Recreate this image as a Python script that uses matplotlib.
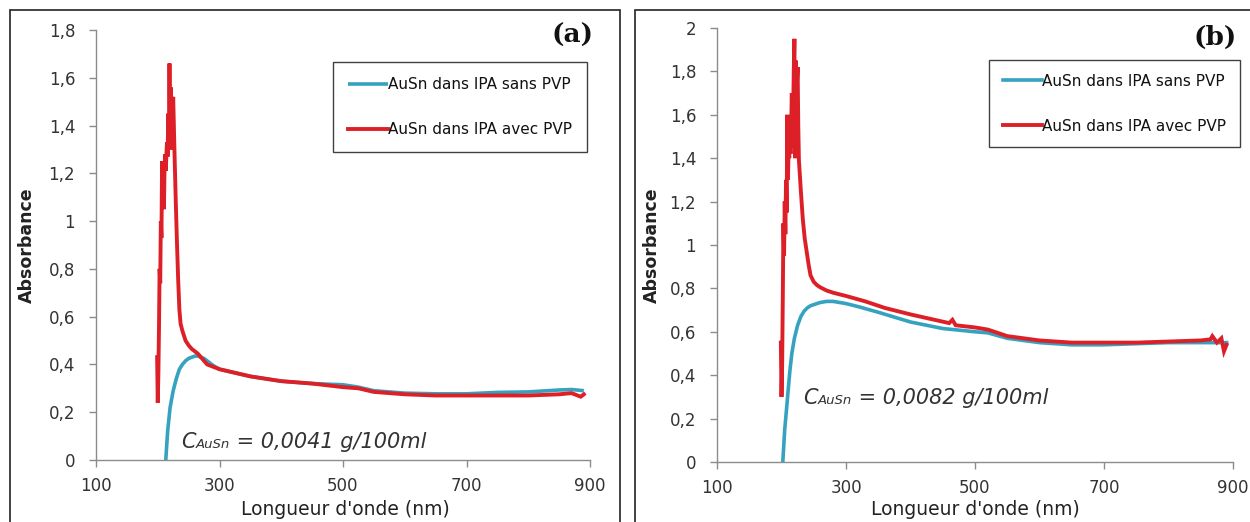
import matplotlib
matplotlib.use("Agg")
import matplotlib.pyplot as plt
from matplotlib.patches import Rectangle
from matplotlib.ticker import FuncFormatter
from matplotlib.offsetbox import TextArea, HPacker, AnnotationBbox

# ---------------- data ----------------
# Panel (a)
a_red_x = [199, 200, 201, 202, 203, 204, 205, 206, 207, 208, 209, 210, 211, 212, 213, 214,
           215, 216, 217, 218, 219, 220, 221, 222, 223, 224, 225, 227, 229, 231, 233, 235,
           237, 240, 245, 250, 255, 260, 265, 270, 275, 280, 290, 300, 325, 350, 375, 400,
           450, 500, 525, 550, 600, 650, 700, 750, 800, 850, 870, 885, 890]
a_red_y = [0.43, 0.24, 0.36, 0.55, 0.80, 0.74, 1.00, 0.93, 1.25, 1.08, 1.25, 1.05, 1.22, 1.28,
           1.21, 1.28, 1.33, 1.27, 1.45, 1.32, 1.66, 1.38, 1.56, 1.30, 1.52, 1.45, 1.52, 1.30,
           1.10, 0.92, 0.76, 0.63, 0.57, 0.54, 0.50, 0.48, 0.465, 0.455, 0.445, 0.43, 0.415,
           0.40, 0.39, 0.38, 0.365, 0.35, 0.34, 0.33, 0.32, 0.305, 0.30, 0.285, 0.275, 0.27,
           0.27, 0.27, 0.27, 0.275, 0.28, 0.265, 0.275]
a_blue_x = [213, 216, 220, 225, 230, 235, 240, 245, 250, 255, 260, 265, 270, 275, 280, 290,
            300, 325, 350, 400, 450, 500, 525, 550, 600, 650, 700, 750, 800, 850, 870, 890]
a_blue_y = [0.0, 0.12, 0.22, 0.29, 0.34, 0.38, 0.40, 0.415, 0.425, 0.43, 0.435, 0.435, 0.43,
            0.425, 0.415, 0.395, 0.38, 0.365, 0.35, 0.33, 0.32, 0.315, 0.305, 0.29, 0.28,
            0.277, 0.277, 0.283, 0.285, 0.293, 0.295, 0.29]

# Panel (b)
b_red_x = [199, 200, 201, 202, 203, 204, 205, 206, 207, 208, 209, 210, 211, 212, 213, 214,
           215, 216, 217, 218, 219, 220, 221, 222, 223, 224, 225, 226, 227, 230, 233, 236,
           239, 242, 245, 250, 255, 260, 270, 280, 300, 330, 360, 400, 430, 460, 465, 470,
           500, 520, 550, 600, 650, 700, 750, 800, 850, 865, 868, 875, 882, 886, 890]
b_red_y = [0.55, 0.30, 0.45, 0.75, 1.10, 0.95, 1.20, 1.05, 1.30, 1.15, 1.60, 1.30, 1.45,
           1.40, 1.50, 1.42, 1.55, 1.70, 1.45, 1.60, 1.80, 1.95, 1.40, 1.85, 1.50, 1.75,
           1.82, 1.55, 1.39, 1.25, 1.12, 1.03, 0.97, 0.91, 0.86, 0.83, 0.815, 0.805, 0.79,
           0.78, 0.765, 0.74, 0.71, 0.68, 0.66, 0.64, 0.655, 0.63, 0.62, 0.61, 0.58, 0.56,
           0.55, 0.55, 0.55, 0.555, 0.56, 0.565, 0.58, 0.55, 0.57, 0.51, 0.54]
b_blue_x = [202, 205, 208, 210, 213, 216, 220, 225, 230, 235, 240, 245, 250, 260, 270, 280,
            290, 300, 320, 350, 400, 450, 500, 520, 550, 600, 650, 700, 750, 800, 850, 890]
b_blue_y = [0.0, 0.15, 0.25, 0.32, 0.42, 0.50, 0.57, 0.63, 0.67, 0.695, 0.71, 0.72, 0.725,
            0.735, 0.74, 0.74, 0.735, 0.73, 0.715, 0.69, 0.645, 0.615, 0.60, 0.595, 0.57,
            0.55, 0.54, 0.54, 0.545, 0.55, 0.55, 0.55]

x_ticks = [100, 300, 500, 700, 900]
a_y_ticks = [0, 0.2, 0.4, 0.6, 0.8, 1.0, 1.2, 1.4, 1.6, 1.8]
b_y_ticks = [0, 0.2, 0.4, 0.6, 0.8, 1.0, 1.2, 1.4, 1.6, 1.8, 2.0]

label_blue = "AuSn dans IPA sans PVP"
label_red = "AuSn dans IPA avec PVP"
x_label = "Longueur d'onde (nm)"
y_label = "Absorbance"
conc_a = " = 0,0041 g/100ml"
conc_b = " = 0,0082 g/100ml"

BLUE = "#35A3C0"
RED = "#DD2027"

plt.rcParams['font.family'] = ['DejaVu Sans']

fig = plt.figure(figsize=(12.5, 5.22), dpi=100)

# outer frames
fig.patches.append(Rectangle((0.008, -0.02), 0.488, 1.001, transform=fig.transFigure,
                             fill=False, edgecolor="#222222", lw=1.2))
fig.patches.append(Rectangle((0.508, -0.02), 0.6, 1.001, transform=fig.transFigure,
                             fill=False, edgecolor="#222222", lw=1.2))


def comma(v, pos):
    s = ("%.1f" % v).rstrip('0').rstrip('.')
    return s.replace('.', ',')


def setup(ax, yticks, ymax):
    ax.set_xlim(100, 900)
    ax.set_ylim(0, ymax)
    ax.set_xticks(x_ticks)
    ax.set_yticks(yticks)
    ax.yaxis.set_major_formatter(FuncFormatter(comma))
    for s in ["top", "right"]:
        ax.spines[s].set_visible(False)
    for s in ["left", "bottom"]:
        ax.spines[s].set_color("#8c8c8c")
        ax.spines[s].set_linewidth(1.0)
    ax.tick_params(axis='both', direction='out', length=5, width=1, color="#8c8c8c",
                   labelsize=12, labelcolor="#333333")
    ax.tick_params(axis='y', pad=10)
    ax.tick_params(axis='x', pad=7)
    ax.set_xlabel(x_label, fontsize=13.5, color="#222222")
    ax.set_ylabel(y_label, fontsize=12.5, fontweight='bold', color="#222222")


def conc(ax, x, y, rest):
    t1 = TextArea("C", textprops=dict(fontsize=15, style='italic', color="#333333"))
    t2 = TextArea("AuSn", textprops=dict(fontsize=9.5, style='italic', color="#333333"))
    t3 = TextArea(rest, textprops=dict(fontsize=15, style='italic', color="#333333"))
    box = HPacker(children=[t1, t2, t3], align="baseline", pad=0, sep=0)
    ab = AnnotationBbox(box, (x, y), xycoords='data', box_alignment=(0, 0.5),
                        frameon=False, pad=0)
    ax.add_artist(ab)


# ---- panel (a)
ax1 = fig.add_axes([0.0768, 0.1188, 0.3952, 0.8237])
l1, = ax1.plot(a_blue_x, a_blue_y, color=BLUE, lw=2.6, solid_capstyle='butt', zorder=3)
l2, = ax1.plot(a_red_x, a_red_y, color=RED, lw=2.8, solid_joinstyle='miter', zorder=4)
setup(ax1, a_y_ticks, 1.8)
ax1.yaxis.set_label_coords(-0.121, 0.5)
ax1.xaxis.set_label_coords(0.504, -0.093)
conc(ax1, 238, 0.075, conc_a)
leg1 = ax1.legend([l1, l2], [label_blue, label_red], loc='upper left',
                  bbox_to_anchor=(0.2664, 0.881), bbox_transform=fig.transFigure,
                  fontsize=11, frameon=True, fancybox=False, edgecolor="#111111",
                  handlelength=2.6, handletextpad=0.0, labelspacing=1.95,
                  borderpad=1.0, borderaxespad=0)
leg1.get_frame().set_linewidth(1.0)
for t in leg1.get_texts():
    t.set_color("#111111")
fig.text(0.4576, 0.933, "(a)", fontsize=19, fontweight='bold', family='DejaVu Serif',
         ha='center', va='center', color="#111111")

# ---- panel (b)
ax2 = fig.add_axes([0.5736, 0.115, 0.4128, 0.8314])
m1, = ax2.plot(b_blue_x, b_blue_y, color=BLUE, lw=2.6, zorder=3)
m2, = ax2.plot(b_red_x, b_red_y, color=RED, lw=2.8, solid_joinstyle='miter', zorder=4)
setup(ax2, b_y_ticks, 2.0)
ax2.yaxis.set_label_coords(-0.108, 0.5)
ax2.xaxis.set_label_coords(0.5, -0.088)
conc(ax2, 233, 0.295, conc_b)
leg2 = ax2.legend([m1, m2], [label_blue, label_red], loc='upper left',
                  bbox_to_anchor=(0.7912, 0.885), bbox_transform=fig.transFigure,
                  fontsize=11, frameon=True, fancybox=False, edgecolor="#111111",
                  handlelength=2.6, handletextpad=0.0, labelspacing=1.95,
                  borderpad=0.9, borderaxespad=0)
leg2.get_frame().set_linewidth(1.0)
for t in leg2.get_texts():
    t.set_color("#111111")
fig.text(0.972, 0.929, "(b)", fontsize=19, fontweight='bold', family='DejaVu Serif',
         ha='center', va='center', color="#111111")

fig.savefig("out.png", dpi=100)
